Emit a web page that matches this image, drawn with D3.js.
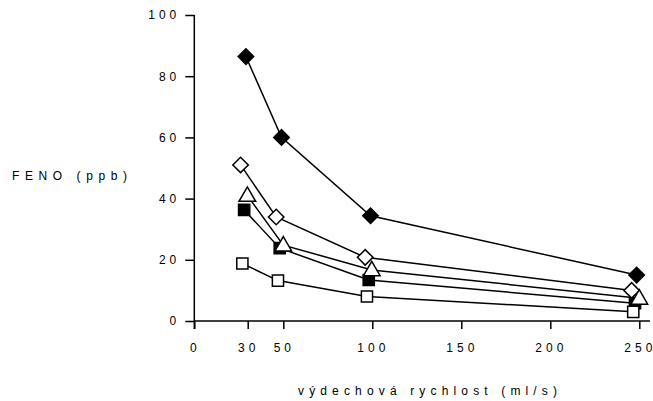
<!DOCTYPE html>
<html>
<head>
<meta charset="utf-8">
<script src="https://cdn.jsdelivr.net/npm/d3@7"></script>
<style>
  body { margin: 0; background: #fff; }
  text { font-family: "Liberation Sans", Arial, sans-serif; fill: #000; }
</style>
</head>
<body>
<svg id="chart" width="653" height="401"></svg>
<script>
// flow rates (ml/s) per series, slightly offset as in the original
var xFilledDiamond = [29, 49, 99, 248.5];
var yFilledDiamond = [86.4, 60, 34.4, 15];
var xOpenDiamond = [26, 46, 96, 245.7];
var yOpenDiamond = [51, 34, 20.8, 10];
var xTriangle = [29.8, 50, 99.7, 250];
var yTriangle = [41, 24.8, 16.7, 7.4];
var xFilledSquare = [28, 48, 98, 247.6];
var yFilledSquare = [36.3, 23.8, 13.4, 5.8];
var xOpenSquare = [27, 47, 97, 246.6];
var yOpenSquare = [18.8, 13.2, 8, 3];

var xTicks = [0, 30, 50, 100, 150, 200, 250];
var yTicks = [0, 20, 40, 60, 80, 100];

function part01EntryPoint() {
  var svg = d3.select("#chart");

  var xScale = d3.scaleLinear().domain([0, 250]).range([194.3, 639.3]);
  var yScale = d3.scaleLinear().domain([0, 100]).range([321, 15]);

  var series = [
    { xs: xFilledDiamond, ys: yFilledDiamond, shape: "diamond", fill: "#000" },
    { xs: xOpenDiamond, ys: yOpenDiamond, shape: "diamond", fill: "#fff" },
    { xs: xFilledSquare, ys: yFilledSquare, shape: "square", fill: "#000" },
    { xs: xTriangle, ys: yTriangle, shape: "triangle", fill: "#fff" },
    { xs: xOpenSquare, ys: yOpenSquare, shape: "square", fill: "#fff" }
  ];

  drawAxes();
  series.forEach(drawLine);
  series.forEach(drawMarkers);
  drawLabels();

  // digits spread out like in the original figure
  function spaced(v) {
    return String(v).split("").join("\u2004");
  }

  function drawAxes() {
    // x axis
    var xAxis = d3.axisBottom(xScale).tickValues(xTicks).tickSize(8).tickFormat(spaced);
    var gx = svg.append("g")
      .attr("transform", "translate(0," + yScale(0) + ")")
      .call(xAxis);
    gx.select(".domain").attr("d", "M" + xScale(0) + ",0H" + 650);
    gx.selectAll("line, path").attr("stroke", "#000").attr("stroke-width", 1.5);
    gx.selectAll("text")
      .attr("y", 31)
      .attr("dy", 0)
      .attr("dx", -1.5)
      .attr("font-size", 12)
      .style("font-family", "Liberation Sans, Arial, sans-serif");

    // y axis
    var yAxis = d3.axisLeft(yScale).tickValues(yTicks).tickSize(9).tickFormat(spaced);
    var gy = svg.append("g")
      .attr("transform", "translate(" + xScale(0) + ",0)")
      .call(yAxis);
    gy.select(".domain").attr("d", "M0," + yScale(100) + "V" + (yScale(0) + 8));
    gy.selectAll("line, path").attr("stroke", "#000").attr("stroke-width", 1.5);
    gy.selectAll("text")
      .attr("x", -18)
      .attr("font-size", 12)
      .style("font-family", "Liberation Sans, Arial, sans-serif");
  }

  function drawLine(s) {
    var pts = s.xs.map(function(x, i) { return [x, s.ys[i]]; });
    var line = d3.line()
      .x(function(d) { return xScale(d[0]); })
      .y(function(d) { return yScale(d[1]); });

    svg.append("path")
      .datum(pts)
      .attr("d", line)
      .attr("fill", "none")
      .attr("stroke", "#000")
      .attr("stroke-width", 1.5);
  }

  function drawMarkers(s) {
    var pts = s.xs.map(function(x, i) { return [x, s.ys[i]]; });
    var sym;
    if (s.shape == "diamond") {
      sym = d3.symbol().type(d3.symbolSquare).size(120);
    } else if (s.shape == "square") {
      sym = d3.symbol().type(d3.symbolSquare).size(125);
    } else {
      sym = d3.symbol().type(d3.symbolTriangle).size(120);
    }

    svg.append("g")
      .selectAll("path")
      .data(pts)
      .enter()
      .append("path")
      .attr("d", sym)
      .attr("transform", function(d) {
        var t = "translate(" + xScale(d[0]) + "," + yScale(d[1]) + ")";
        if (s.shape == "diamond") t += " rotate(45)";
        if (s.shape == "triangle") t += " translate(0,1)";
        return t;
      })
      .attr("fill", s.fill)
      .attr("stroke", "#000")
      .attr("stroke-width", 1.5);
  }

  function drawLabels() {
    svg.append("text")
      .attr("x", 12)
      .attr("y", 180)
      .attr("font-size", 12)
      .attr("textLength", 115)
      .attr("lengthAdjust", "spacing")
      .text("FENO (ppb)");

    svg.append("text")
      .attr("x", 298)
      .attr("y", 395)
      .attr("font-size", 12)
      .attr("textLength", 259)
      .attr("lengthAdjust", "spacing")
      .text("výdechová rychlost (ml/s)");
  }
}

part01EntryPoint();
</script>
</body>
</html>
